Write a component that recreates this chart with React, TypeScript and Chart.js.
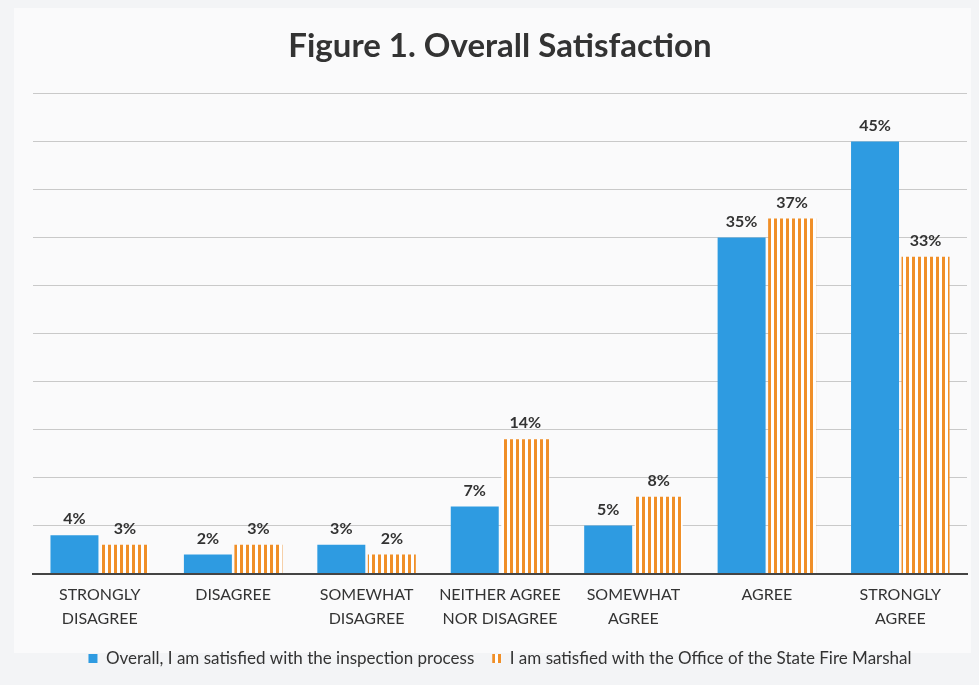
import React, { useEffect, useRef } from "react";
import { Chart, registerables } from "chart.js";

Chart.register(...registerables);

const categories: string[][] = [
  ["STRONGLY", "DISAGREE"],
  ["DISAGREE"],
  ["SOMEWHAT", "DISAGREE"],
  ["NEITHER AGREE", "NOR DISAGREE"],
  ["SOMEWHAT", "AGREE"],
  ["AGREE"],
  ["STRONGLY", "AGREE"],
];
const overallValues = [4, 2, 3, 7, 5, 35, 45];
const fireMarshalValues = [3, 3, 2, 14, 8, 37, 33];
const seriesNames = [
  "Overall, I am satisfied with the inspection process",
  "I am satisfied with the Office of the State Fire Marshal",
];
const titleText = "Figure 1. Overall Satisfaction";

const FONT = "Lato, 'Open Sans', sans-serif";

function makeStripes(): CanvasPattern | string {
  const c = document.createElement("canvas");
  c.width = 6;
  c.height = 6;
  const ctx = c.getContext("2d");
  if (!ctx) return "#f0922b";
  ctx.fillStyle = "#ffffff";
  ctx.fillRect(0, 0, 6, 6);
  ctx.fillStyle = "#f08f28";
  ctx.fillRect(0, 0, 3, 6);
  const p = ctx.createPattern(c, "repeat");
  return p || "#f0922b";
}

const valueLabels = {
  id: "valueLabels",
  afterDatasetsDraw(chart: any) {
    const ctx = chart.ctx;
    ctx.save();
    ctx.font = `bold 16px ${FONT}`;
    ctx.fillStyle = "#333333";
    ctx.textAlign = "center";
    ctx.textBaseline = "bottom";
    chart.data.datasets.forEach((ds: any, i: number) => {
      const meta = chart.getDatasetMeta(i);
      meta.data.forEach((el: any, j: number) => {
        ctx.fillText(`${ds.data[j]}%`, el.x, el.y - 8);
      });
    });
    ctx.restore();
  },
};

const bgPlugin = {
  id: "bgPlugin",
  beforeDraw(chart: any) {
    const { ctx, width, height } = chart;
    ctx.save();
    ctx.fillStyle = "#f3f4f6";
    ctx.fillRect(0, 0, width, height);
    ctx.fillStyle = "#fafafb";
    ctx.fillRect(14, 8, width - 22, height - 40);
    ctx.restore();
  },
};

export default function App() {
  const ref = useRef<HTMLCanvasElement | null>(null);
  useEffect(() => {
    if (!ref.current) return;
    const stripes = makeStripes();
    const chart = new Chart(ref.current, {
      type: "bar",
      data: {
        labels: categories,
        datasets: [
          {
            label: seriesNames[0],
            data: overallValues,
            backgroundColor: "#2e9be1",
            categoryPercentage: 0.757,
            barPercentage: 0.95,
          },
          {
            label: seriesNames[1],
            data: fireMarshalValues,
            backgroundColor: stripes as any,
            categoryPercentage: 0.757,
            barPercentage: 0.95,
          },
        ],
      },
      options: {
        responsive: false,
        animation: false,
        layout: { padding: { left: 33, right: 12, top: 0, bottom: 8 } },
        plugins: {
          title: {
            display: true,
            text: titleText,
            color: "#333333",
            font: { family: FONT, size: 33, weight: "bold" },
            padding: { top: 27, bottom: 27 },
          },
          legend: {
            position: "bottom",
            labels: {
              color: "#333333",
              font: { family: FONT, size: 17 },
              usePointStyle: true,
              pointStyle: "rect",
              boxWidth: 9,
              boxHeight: 9,
              padding: 18,
            },
          },
          tooltip: { enabled: false },
        },
        scales: {
          x: {
            grid: { display: false },
            border: { display: true, color: "#444444", width: 2 },
            ticks: {
              color: "#333333",
              font: { family: FONT, size: 16, lineHeight: 1.45 },
              padding: 2,
              maxRotation: 0,
            },
          },
          y: {
            min: 0,
            max: 50,
            ticks: { display: false, stepSize: 5 },
            grid: { color: "#c9c9c9", lineWidth: 1, drawTicks: false },
            border: { display: false },
          },
        },
      },
      plugins: [bgPlugin, valueLabels],
    });
    return () => chart.destroy();
  }, []);
  return (
    <div style={{ position: "fixed", left: 0, top: 0, width: 979, height: 685 }}>
      <canvas ref={ref} width={979} height={685} />
    </div>
  );
}
